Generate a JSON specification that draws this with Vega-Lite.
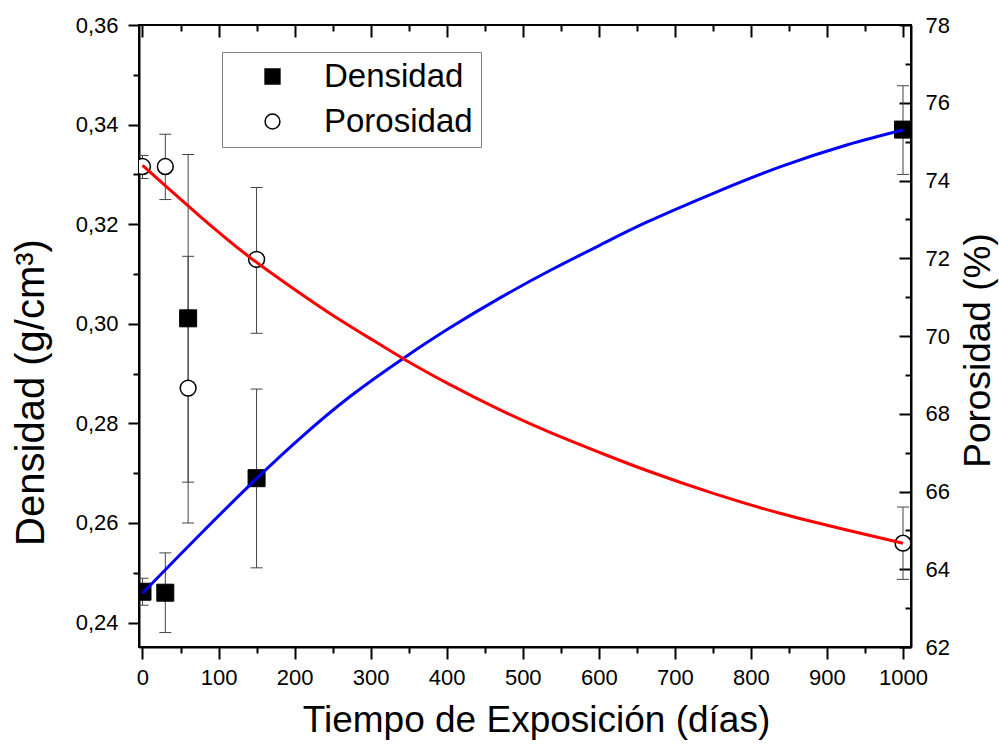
{
  "$schema": "https://vega.github.io/schema/vega-lite/v6.json",
  "width": 772,
  "height": 622,
  "autosize": {"type": "none"},
  "padding": {"left": 139, "top": 25, "right": 88, "bottom": 98},
  "background": "white",
  "config": {
    "font": "Liberation Sans",
    "view": {"stroke": "black", "strokeWidth": 2},
    "axis": {
      "grid": false,
      "domainColor": "black",
      "domainWidth": 2,
      "tickColor": "black",
      "tickWidth": 2,
      "labelColor": "black",
      "titleColor": "black",
      "labelFontSize": 22,
      "titleFontSize": 37,
      "titleFontWeight": "normal",
      "labelFont": "Liberation Sans",
      "titleFont": "Liberation Sans",
      "labelOverlap": false,
      "labelFlush": false
    },
    "legend": {
      "orient": "none", "legendX": 83, "legendY": 27, "title": null,
      "labelFontSize": 33, "labelFont": "Liberation Sans", "labelColor": "black",
      "symbolSize": 220, "symbolOpacity": 1, "padding": 8, "rowPadding": 11,
      "strokeColor": "#808080", "fillColor": "white", "symbolOffset": 26, "labelOffset": 35
    }
  },
  "datasets": {
    "dens": [
      {"x": 0, "dens": 0.2462, "lo": 0.2435, "hi": 0.2489, "serie": "Densidad"},
      {"x": 30, "dens": 0.2460, "lo": 0.2380, "hi": 0.2540, "serie": "Densidad"},
      {"x": 60, "dens": 0.3011, "lo": 0.2682, "hi": 0.3340, "serie": "Densidad"},
      {"x": 150, "dens": 0.2690, "lo": 0.2510, "hi": 0.2869, "serie": "Densidad"},
      {"x": 1000, "dens": 0.3390, "lo": 0.3300, "hi": 0.3478, "serie": "Densidad"}
    ],
    "poro": [
      {"x": 0, "poro": 74.36, "lo": 74.05, "hi": 74.64, "serie": "Porosidad"},
      {"x": 30, "poro": 74.36, "lo": 73.51, "hi": 75.19, "serie": "Porosidad"},
      {"x": 60, "poro": 68.66, "lo": 65.19, "hi": 72.05, "serie": "Porosidad"},
      {"x": 150, "poro": 71.97, "lo": 70.07, "hi": 73.82, "serie": "Porosidad"},
      {"x": 1000, "poro": 64.67, "lo": 63.74, "hi": 65.60, "serie": "Porosidad"}
    ],
    "densFit": [
      {"x": 0, "dens": 0.2459},
      {"x": 75.6, "dens": 0.2577},
      {"x": 150.6, "dens": 0.2690},
      {"x": 207.1, "dens": 0.2770},
      {"x": 272.9, "dens": 0.2854},
      {"x": 345.2, "dens": 0.2933},
      {"x": 404.3, "dens": 0.2992},
      {"x": 470.1, "dens": 0.3052},
      {"x": 535.8, "dens": 0.3107},
      {"x": 601.6, "dens": 0.3158},
      {"x": 663.0, "dens": 0.3204},
      {"x": 750.6, "dens": 0.3262},
      {"x": 838.3, "dens": 0.3315},
      {"x": 926.0, "dens": 0.3359},
      {"x": 1000, "dens": 0.3389}
    ],
    "poroFit": [
      {"x": 0, "poro": 74.39},
      {"x": 75.6, "poro": 73.08},
      {"x": 141.4, "poro": 72.02},
      {"x": 193.9, "poro": 71.28},
      {"x": 246.5, "poro": 70.58},
      {"x": 294.8, "poro": 69.99},
      {"x": 345.2, "poro": 69.39},
      {"x": 404.3, "poro": 68.75},
      {"x": 470.1, "poro": 68.10},
      {"x": 535.8, "poro": 67.52},
      {"x": 601.6, "poro": 67.00},
      {"x": 663.0, "poro": 66.54},
      {"x": 750.6, "poro": 65.95},
      {"x": 838.3, "poro": 65.44},
      {"x": 926.0, "poro": 65.01},
      {"x": 1000, "poro": 64.67}
    ]
  },
  "layer": [
    {
      "data": {"name": "dens"},
      "mark": {"type": "rule", "color": "#444444", "strokeWidth": 1, "clip": true},
      "encoding": {
        "x": {"field": "x", "type": "quantitative", "scale": {"domain": [-4.6, 1010.5], "nice": false, "zero": false}, "axis": null},
        "y": {"field": "lo", "type": "quantitative", "scale": {"domain": [0.2351, 0.36], "nice": false, "zero": false}, "axis": null},
        "y2": {"field": "hi"}
      }
    },
    {
      "data": {"name": "dens"},
      "mark": {"type": "tick", "orient": "horizontal", "color": "#444444", "size": 12, "thickness": 1, "opacity": 1, "clip": true},
      "encoding": {
        "x": {"field": "x", "type": "quantitative", "scale": {"domain": [-4.6, 1010.5], "nice": false, "zero": false}, "axis": null},
        "y": {"field": "lo", "type": "quantitative", "scale": {"domain": [0.2351, 0.36], "nice": false, "zero": false}, "axis": null}
      }
    },
    {
      "data": {"name": "dens"},
      "mark": {"type": "tick", "orient": "horizontal", "color": "#444444", "size": 12, "thickness": 1, "opacity": 1, "clip": true},
      "encoding": {
        "x": {"field": "x", "type": "quantitative", "scale": {"domain": [-4.6, 1010.5], "nice": false, "zero": false}, "axis": null},
        "y": {"field": "hi", "type": "quantitative", "scale": {"domain": [0.2351, 0.36], "nice": false, "zero": false}, "axis": null}
      }
    },
    {
      "data": {"name": "poro"},
      "mark": {"type": "rule", "color": "#444444", "strokeWidth": 1, "clip": true},
      "encoding": {
        "x": {"field": "x", "type": "quantitative", "scale": {"domain": [-4.6, 1010.5], "nice": false, "zero": false}, "axis": null},
        "y": {"field": "lo", "type": "quantitative", "scale": {"domain": [62, 78], "nice": false, "zero": false}, "axis": null},
        "y2": {"field": "hi"}
      }
    },
    {
      "data": {"name": "poro"},
      "mark": {"type": "tick", "orient": "horizontal", "color": "#444444", "size": 12, "thickness": 1, "opacity": 1, "clip": true},
      "encoding": {
        "x": {"field": "x", "type": "quantitative", "scale": {"domain": [-4.6, 1010.5], "nice": false, "zero": false}, "axis": null},
        "y": {"field": "lo", "type": "quantitative", "scale": {"domain": [62, 78], "nice": false, "zero": false}, "axis": null}
      }
    },
    {
      "data": {"name": "poro"},
      "mark": {"type": "tick", "orient": "horizontal", "color": "#444444", "size": 12, "thickness": 1, "opacity": 1, "clip": true},
      "encoding": {
        "x": {"field": "x", "type": "quantitative", "scale": {"domain": [-4.6, 1010.5], "nice": false, "zero": false}, "axis": null},
        "y": {"field": "hi", "type": "quantitative", "scale": {"domain": [62, 78], "nice": false, "zero": false}, "axis": null}
      }
    },
    {
      "data": {"name": "dens"},
      "mark": {"type": "point", "filled": true, "opacity": 1, "stroke": "black", "strokeWidth": 1, "size": 289, "clip": true},
      "encoding": {
        "x": {
          "field": "x", "type": "quantitative",
          "scale": {"domain": [-4.6, 1010.5], "nice": false, "zero": false},
          "axis": {
            "orient": "bottom",
            "values": [0, 50, 100, 150, 200, 250, 300, 350, 400, 450, 500, 550, 600, 650, 700, 750, 800, 850, 900, 950, 1000],
            "labelExpr": "datum.value % 100 === 0 ? format(datum.value, 'd') : ''",
            "tickSize": {"condition": {"test": "datum.value % 100 === 0", "value": 12}, "value": 6},
            "labelPadding": 8,
            "title": "Tiempo de Exposición (días)",
            "titleX": 397,
            "titleY": 84,
            "titleAlign": "center",
            "titleBaseline": "alphabetic"
          }
        },
        "y": {
          "field": "dens", "type": "quantitative",
          "scale": {"domain": [0.2351, 0.36], "nice": false, "zero": false},
          "axis": {
            "orient": "left",
            "values": [0.24, 0.25, 0.26, 0.27, 0.28, 0.29, 0.30, 0.31, 0.32, 0.33, 0.34, 0.35, 0.36],
            "labelExpr": "round(datum.value * 100) % 2 === 0 ? replace(format(datum.value, '.2f'), '.', ',') : ''",
            "tickSize": {"condition": {"test": "round(datum.value * 100) % 2 === 0", "value": 11}, "value": 6},
            "labelPadding": 10,
            "title": "Densidad (g/cm³)",
            "titleFontSize": 40,
            "titleAngle": 270,
            "titleX": -96,
            "titleY": 367,
            "titleAlign": "center",
            "titleBaseline": "alphabetic"
          }
        },
        "shape": {
          "field": "serie", "type": "nominal",
          "scale": {"domain": ["Densidad", "Porosidad"], "range": ["square", "circle"]},
          "legend": {"encode": {"symbols": {"update": {"stroke": {"value": "black"}, "strokeWidth": {"value": 1.5}}}}}
        },
        "fill": {
          "field": "serie", "type": "nominal",
          "scale": {"domain": ["Densidad", "Porosidad"], "range": ["black", "white"]},
          "legend": {"encode": {"symbols": {"update": {"stroke": {"value": "black"}, "strokeWidth": {"value": 1.5}}}}}
        }
      }
    },
    {
      "data": {"name": "poro"},
      "mark": {"type": "point", "filled": true, "opacity": 1, "stroke": "black", "strokeWidth": 1.5, "size": 250, "clip": true},
      "encoding": {
        "x": {"field": "x", "type": "quantitative", "scale": {"domain": [-4.6, 1010.5], "nice": false, "zero": false}, "axis": null},
        "y": {
          "field": "poro", "type": "quantitative",
          "scale": {"domain": [62, 78], "nice": false, "zero": false},
          "axis": {
            "orient": "right",
            "values": [62, 64, 66, 68, 70, 72, 74, 76, 78],
            "ticks": false,
            "labelPadding": 14,
            "title": "Porosidad (%)",
            "titleAngle": 270,
            "titleX": 78,
            "titleY": 325,
            "titleAlign": "center",
            "titleBaseline": "alphabetic"
          }
        },
        "shape": {
          "field": "serie", "type": "nominal",
          "scale": {"domain": ["Densidad", "Porosidad"], "range": ["square", "circle"]},
          "legend": {"encode": {"symbols": {"update": {"stroke": {"value": "black"}, "strokeWidth": {"value": 1.5}}}}}
        },
        "fill": {
          "field": "serie", "type": "nominal",
          "scale": {"domain": ["Densidad", "Porosidad"], "range": ["black", "white"]},
          "legend": {"encode": {"symbols": {"update": {"stroke": {"value": "black"}, "strokeWidth": {"value": 1.5}}}}}
        }
      }
    },
    {
      "data": {"name": "densFit"},
      "mark": {"type": "line", "color": "#0000ff", "strokeWidth": 3, "interpolate": "natural", "clip": true},
      "encoding": {
        "x": {"field": "x", "type": "quantitative", "scale": {"domain": [-4.6, 1010.5], "nice": false, "zero": false}, "axis": null},
        "y": {"field": "dens", "type": "quantitative", "scale": {"domain": [0.2351, 0.36], "nice": false, "zero": false}, "axis": null}
      }
    },
    {
      "data": {"name": "poroFit"},
      "mark": {"type": "line", "color": "#ff0000", "strokeWidth": 3, "interpolate": "natural", "clip": true},
      "encoding": {
        "x": {"field": "x", "type": "quantitative", "scale": {"domain": [-4.6, 1010.5], "nice": false, "zero": false}, "axis": null},
        "y": {"field": "poro", "type": "quantitative", "scale": {"domain": [62, 78], "nice": false, "zero": false}, "axis": null}
      }
    },
    {
      "data": {"name": "poro"},
      "mark": {"type": "point", "opacity": 0},
      "encoding": {
        "x": {
          "field": "x", "type": "quantitative",
          "scale": {"domain": [-4.6, 1010.5], "nice": false, "zero": false},
          "axis": {
            "orient": "top",
            "values": [0, 50, 100, 150, 200, 250, 300, 350, 400, 450, 500, 550, 600, 650, 700, 750, 800, 850, 900, 950, 1000],
            "labels": false,
            "domain": false,
            "title": null,
            "tickSize": {"condition": {"test": "datum.value % 100 === 0", "value": -12}, "value": -6}
          }
        },
        "y": {
          "field": "poro", "type": "quantitative",
          "scale": {"domain": [62, 78], "nice": false, "zero": false},
          "axis": {
            "orient": "right",
            "values": [62, 63, 64, 65, 66, 67, 68, 69, 70, 71, 72, 73, 74, 75, 76, 77, 78],
            "labels": false,
            "domain": false,
            "title": null,
            "tickSize": {"condition": {"test": "datum.value % 2 === 0", "value": -12}, "value": -6}
          }
        }
      }
    }
  ],
  "resolve": {
    "scale": {"y": "independent"},
    "axis": {"x": "independent", "y": "independent"}
  }
}
